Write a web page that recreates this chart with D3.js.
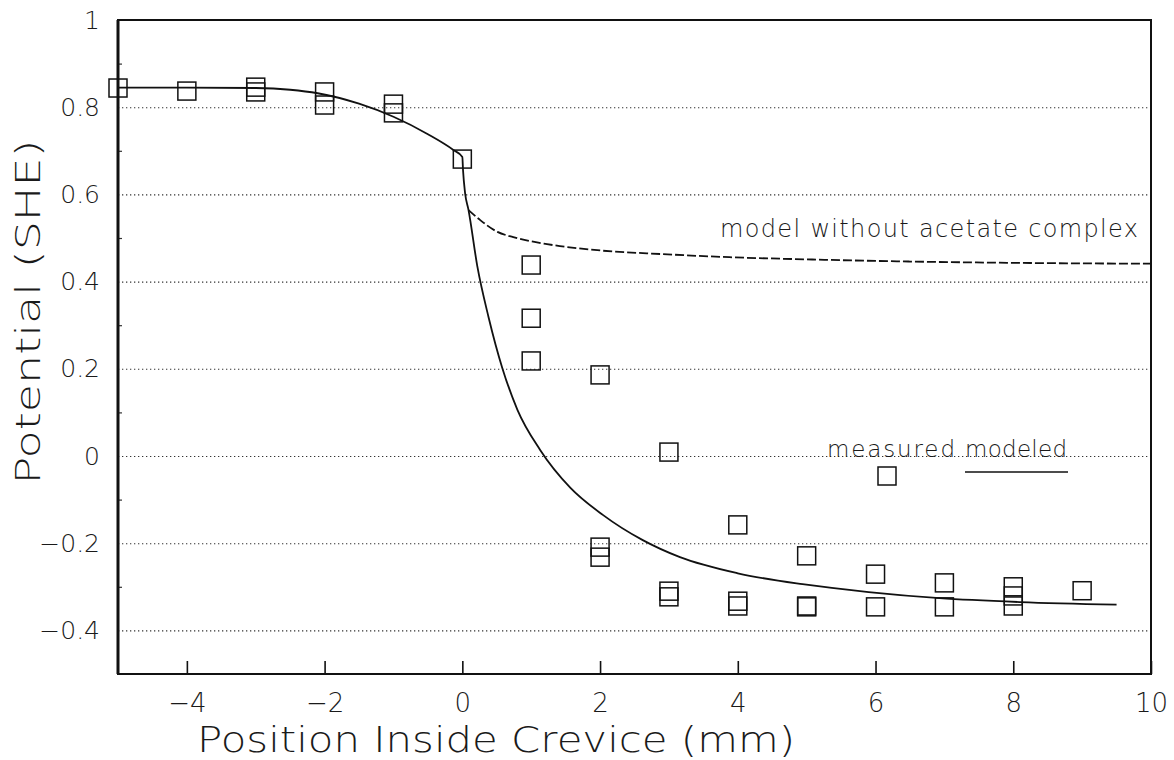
<!DOCTYPE html>
<html>
<head>
<meta charset="utf-8">
<script src="https://cdn.jsdelivr.net/npm/d3@7"></script>
<style>
  body { margin: 0; background: #fff; }
  text { font-family: "DejaVu Sans", sans-serif; font-weight: 200; fill: #1a1a1a; }
</style>
</head>
<body>
<svg id="chart"></svg>
<script>
// measured potentials (squares)
var measuredX = [-5, -4, -3, -3, -2, -2, -1, -1, 0, 1, 1, 1, 2, 2, 2, 3, 3, 3, 4, 4, 4, 5, 5, 5, 6, 6, 7, 7, 8, 8, 8, 9]
var measuredY = [0.844, 0.837, 0.846, 0.835, 0.835, 0.805, 0.807, 0.787, 0.681, 0.438, 0.316, 0.218,
                 0.186, -0.209, -0.232, 0.009, -0.310, -0.323, -0.158, -0.333, -0.344, -0.229, -0.344, -0.346,
                 -0.271, -0.346, -0.291, -0.346, -0.300, -0.321, -0.344, -0.309]

// modeled curve (solid)
var modelX = [-5, -4, -3, -2.5, -2.1, -1.5, -1, -0.5, -0.13, 0, 0.01, 0.04, 0.09, 0.22, 0.38, 0.58, 0.8, 1.13, 1.57, 2.04, 2.62, 3.16, 4, 4.94, 5.9, 6.93, 8.1, 9.5]
var modelY = [0.845, 0.845, 0.844, 0.840, 0.832, 0.808, 0.778, 0.738, 0.702, 0.686, 0.656, 0.603, 0.564, 0.433, 0.319, 0.202, 0.106, 0.014, -0.073, -0.135, -0.193, -0.232, -0.269, -0.294, -0.312, -0.326, -0.335, -0.341]

// model without acetate complex (dashed)
var noAcetateX = [0.09, 0.26, 0.51, 0.74, 1.23, 1.96, 2.91, 3.88, 5, 6.5, 8, 10]
var noAcetateY = [0.564, 0.541, 0.514, 0.502, 0.486, 0.472, 0.463, 0.456, 0.451, 0.446, 0.443, 0.441]

var xTicks = [-4, -2, 0, 2, 4, 6, 8, 10]
var yTicks = [-0.4, -0.2, 0, 0.2, 0.4, 0.6, 0.8, 1]
var yGrid = [-0.4, -0.2, 0, 0.2, 0.4, 0.6, 0.8]
var yMinor = [-0.3, -0.1, 0.1, 0.3, 0.5, 0.7, 0.9]

var labels = {
    x: "Position Inside Crevice (mm)",
    y: "Potential (SHE)",
    dashed: "model without acetate complex",
    measured: "measured",
    modeled: "modeled"
}

//svg dimensions
var dimensions = {
    width: 1174,
    height: 760,
    margin: { top: 20, right: 23, bottom: 86, left: 118 }
}
var innerW = dimensions.width - dimensions.margin.left - dimensions.margin.right
var innerH = dimensions.height - dimensions.margin.top - dimensions.margin.bottom

var svg = d3.select("#chart")
            .attr("width", dimensions.width)
            .attr("height", dimensions.height)

var g = svg.append("g")
           .attr("transform", `translate(${dimensions.margin.left},${dimensions.margin.top})`)

//scales
var x = d3.scaleLinear().domain([-5, 10]).range([0, innerW])
var y = d3.scaleLinear().domain([-0.5, 1]).range([innerH, 0])
var fmt = d3.format("~g")

//dotted gridlines
var grid = g.append("g")
            .call(d3.axisLeft(y).tickValues(yGrid).tickSize(-innerW).tickFormat(""))
grid.select(".domain").remove()
grid.selectAll("line")
    .attr("stroke", "#333")
    .attr("stroke-width", 1.1)
    .attr("stroke-dasharray", "1.3,2.7")

//minor ticks on left axis
var minor = g.append("g")
             .call(d3.axisLeft(y).tickValues(yMinor).tickSize(-4).tickFormat(""))
minor.select(".domain").remove()
minor.selectAll("line").attr("stroke", "#333").attr("stroke-width", 1.2)

//y tick labels
var yAxis = g.append("g")
             .call(d3.axisLeft(y).tickValues(yTicks).tickSize(0).tickPadding(18).tickFormat(fmt))
yAxis.select(".domain").remove()
yAxis.selectAll("text")
     .style("font-size", "25px")
     .style("font-family", "\"DejaVu Sans\", sans-serif")

//x ticks + labels
var xAxis = g.append("g")
             .attr("transform", `translate(0,${innerH})`)
             .call(d3.axisBottom(x).tickValues(xTicks).tickSize(-13).tickPadding(20).tickFormat(fmt))
xAxis.select(".domain").remove()
xAxis.selectAll("line").attr("stroke", "#111").attr("stroke-width", 1.6)
xAxis.selectAll("text")
     .style("font-size", "26px")
     .style("font-family", "\"DejaVu Sans\", sans-serif")

//frame
g.append("rect")
 .attr("width", innerW)
 .attr("height", innerH)
 .attr("fill", "none")
 .attr("stroke", "#111")
 .attr("stroke-width", 2)
g.append("line")
 .attr("x1", 0).attr("x2", 0).attr("y1", 0).attr("y2", innerH)
 .attr("stroke", "#111").attr("stroke-width", 3)

//curves
var line = d3.line()
             .x(d => x(d[0]))
             .y(d => y(d[1]))
             .curve(d3.curveMonotoneX)

g.append("path")
 .datum(d3.zip(modelX, modelY))
 .attr("d", line)
 .attr("fill", "none")
 .attr("stroke", "#111")
 .attr("stroke-width", 1.8)

g.append("path")
 .datum(d3.zip(noAcetateX, noAcetateY))
 .attr("d", line)
 .attr("fill", "none")
 .attr("stroke", "#111")
 .attr("stroke-width", 1.8)
 .attr("stroke-dasharray", "9,3")

//measured squares
var sq = 18
g.append("g")
 .selectAll("rect")
 .data(d3.zip(measuredX, measuredY))
 .enter()
 .append("rect")
 .attr("x", d => x(d[0]) - sq / 2)
 .attr("y", d => y(d[1]) - sq / 2)
 .attr("width", sq)
 .attr("height", sq)
 .attr("fill", "none")
 .attr("stroke", "#111")
 .attr("stroke-width", 1.5)

//annotation
g.append("text")
 .attr("x", 602)
 .attr("y", 217)
 .attr("textLength", 418)
 .attr("lengthAdjust", "spacing")
 .style("font-size", "24px")
 .text(labels.dashed)

//legend
g.append("text")
 .attr("x", 709)
 .attr("y", 437)
 .attr("textLength", 128)
 .attr("lengthAdjust", "spacing")
 .style("font-size", "23px")
 .text(labels.measured)
g.append("text")
 .attr("x", 847)
 .attr("y", 437)
 .attr("textLength", 102)
 .attr("lengthAdjust", "spacing")
 .style("font-size", "23px")
 .text(labels.modeled)
g.append("rect")
 .attr("x", 760)
 .attr("y", 447)
 .attr("width", sq)
 .attr("height", sq)
 .attr("fill", "none")
 .attr("stroke", "#111")
 .attr("stroke-width", 1.5)
g.append("line")
 .attr("x1", 847).attr("x2", 950)
 .attr("y1", 452).attr("y2", 452)
 .attr("stroke", "#111").attr("stroke-width", 1.6)

//axis titles
svg.append("text")
   .attr("x", 197)
   .attr("y", 752)
   .attr("textLength", 598)
   .attr("lengthAdjust", "spacingAndGlyphs")
   .style("font-size", "36px")
   .text(labels.x)

svg.append("text")
   .attr("transform", "translate(40,312) rotate(-90)")
   .attr("text-anchor", "middle")
   .attr("textLength", 345)
   .attr("lengthAdjust", "spacingAndGlyphs")
   .style("font-size", "34px")
   .text(labels.y)
</script>
</body>
</html>
